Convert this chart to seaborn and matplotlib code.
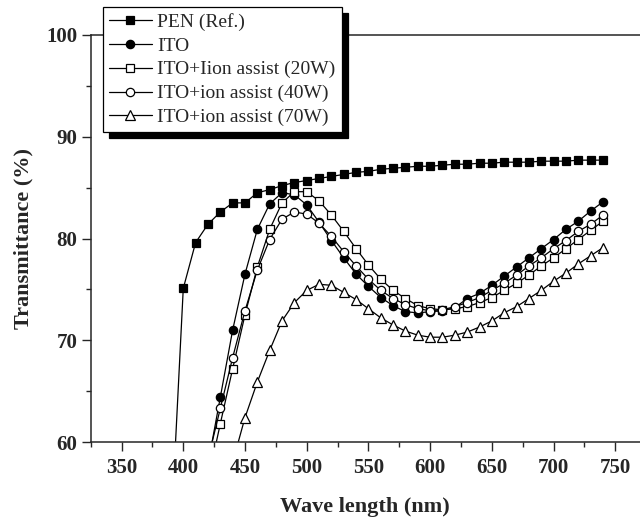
import numpy as np
import matplotlib
matplotlib.use('Agg')
import matplotlib.pyplot as plt
import seaborn as sns
from matplotlib.ticker import MultipleLocator

# wavelengths (nm), sampled every 10 nm
wl_pen = list(range(390, 750, 10))
wl_ito = list(range(420, 750, 10))
wl_70 = list(range(440, 750, 10))

pen = [51.0, 75.1, 79.6, 81.4, 82.6, 83.5, 83.5, 84.5, 84.8, 85.2, 85.5, 85.7, 85.9,
       86.1, 86.3, 86.5, 86.6, 86.8, 86.9, 87.0, 87.1, 87.1, 87.2, 87.3, 87.3, 87.4,
       87.4, 87.5, 87.5, 87.5, 87.6, 87.6, 87.6, 87.7, 87.7, 87.7]
ito = [57.8, 64.4, 71.0, 76.5, 80.9, 83.4, 84.5, 84.3, 83.3, 81.6, 79.8, 78.1, 76.5,
       75.3, 74.2, 73.4, 72.8, 72.7, 72.8, 72.9, 73.2, 74.1, 74.6, 75.4, 76.3, 77.2,
       78.1, 79.0, 79.9, 80.9, 81.7, 82.7, 83.6]
ito_20w = [56.2, 61.8, 67.2, 72.5, 77.2, 80.9, 83.5, 84.6, 84.6, 83.7, 82.3, 80.7, 79.0,
           77.4, 76.0, 74.9, 74.1, 73.4, 73.1, 73.0, 73.1, 73.3, 73.7, 74.2, 74.9, 75.6,
           76.4, 77.3, 78.1, 79.0, 79.9, 80.8, 81.7]
ito_40w = [58.3, 63.3, 68.3, 72.9, 76.9, 79.9, 81.9, 82.6, 82.4, 81.5, 80.2, 78.7, 77.3,
           76.0, 74.9, 74.1, 73.5, 73.1, 72.9, 73.0, 73.3, 73.7, 74.2, 74.9, 75.6, 76.4,
           77.3, 78.1, 79.0, 79.8, 80.7, 81.4, 82.3]
ito_70w = [58.0, 62.4, 65.9, 69.0, 71.9, 73.7, 74.9, 75.5, 75.4, 74.7, 74.0, 73.1, 72.2,
           71.5, 70.9, 70.5, 70.3, 70.3, 70.5, 70.8, 71.3, 71.9, 72.7, 73.3, 74.1, 74.9,
           75.8, 76.6, 77.5, 78.3, 79.1]

labels = ['PEN (Ref.)', 'ITO', 'ITO+Iion assist (20W)', 'ITO+ion assist (40W)',
          'ITO+ion assist (70W)']

sns.set_style('ticks')
plt.rcParams['font.family'] = ['Liberation Serif', 'DejaVu Serif']

fig = plt.figure(figsize=(6.4, 5.19), dpi=100)
ax = fig.add_axes([90.7 / 640, 1 - 442 / 519, 1 - 90.7 / 640, (442 - 35) / 519])

series = [
    (wl_pen, pen, 's', 'black', 5.5),
    (wl_ito, ito, 'o', 'black', 6),
    (wl_ito, ito_20w, 's', 'white', 5.5),
    (wl_ito, ito_40w, 'o', 'white', 6),
    (wl_70, ito_70w, '^', 'white', 6.5),
]
for (x, y, m, fc, ms), lab in zip(series, labels):
    sns.lineplot(x=x, y=y, ax=ax, color='black', linewidth=0.9, marker=m,
                 markersize=ms, markerfacecolor=fc, markeredgecolor='black',
                 markeredgewidth=0.9, label=lab)

ax.set_xlim(325, 770)
ax.set_ylim(60, 100)
ax.xaxis.set_major_locator(MultipleLocator(50))
ax.xaxis.set_minor_locator(MultipleLocator(25))
ax.yaxis.set_major_locator(MultipleLocator(10))
ax.yaxis.set_minor_locator(MultipleLocator(5))
ax.set_xticks(range(350, 751, 50))
ax.tick_params(which='major', direction='out', length=6.5, width=1, labelsize=15, pad=3)
ax.tick_params(which='minor', direction='out', length=3.4, width=1)
ax.tick_params(axis='x', which='major', pad=5)
for t in ax.get_xticklabels() + ax.get_yticklabels():
    t.set_fontweight('bold')
ax.spines['right'].set_visible(False)
for s in ['left', 'bottom', 'top']:
    ax.spines[s].set_linewidth(1.1)

ax.set_xlabel('Wave length (nm)', fontsize=16, fontweight='bold', labelpad=14)
ax.set_ylabel('Transmittance (%)', fontsize=16, fontweight='bold', labelpad=9)

leg = ax.legend(loc='upper left', bbox_to_anchor=(103 / 640, 1 - 7 / 519),
                bbox_transform=fig.transFigure, borderaxespad=0, fontsize=14,
                frameon=True, fancybox=False, framealpha=1, edgecolor='black',
                handlelength=2.2, handletextpad=0.3, labelspacing=0.32,
                borderpad=0.3,
                shadow={'ox': 4.3, 'oy': -4.5, 'facecolor': 'black',
                        'edgecolor': 'black', 'alpha': 1})
leg.get_frame().set_linewidth(0.9)

fig.savefig('out.png', dpi=100)
